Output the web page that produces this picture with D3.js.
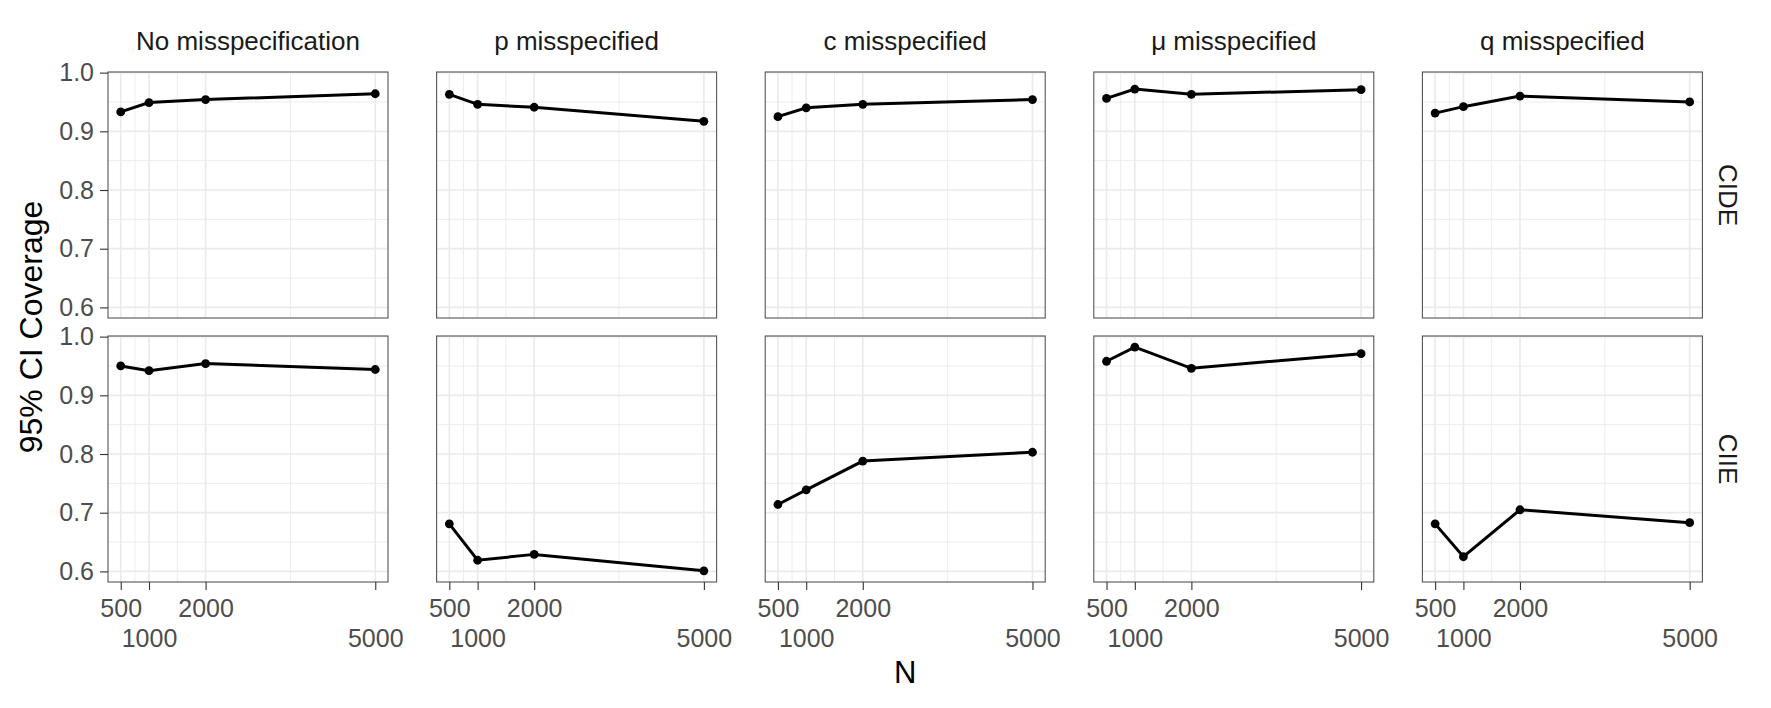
<!DOCTYPE html>
<html>
<head>
<meta charset="utf-8">
<script src="https://cdn.jsdelivr.net/npm/d3@7"></script>
<style>
  body { margin: 0; background: #fff; }
  text { font-family: "Liberation Sans", Arial, Helvetica, sans-serif; }
</style>
</head>
<body>
<div class="chart"></div>
<script>
// sample sizes and facets
const sampleSizes = [500, 1000, 2000, 5000];
const scenarios = ["No misspecification", "p misspecified", "c misspecified", "μ misspecified", "q misspecified"];
const estimands = ["CIDE", "CIIE"];

// coverage per scenario, one array per estimand row
const cideCoverage = [
  [0.933, 0.949, 0.954, 0.964],
  [0.963, 0.946, 0.941, 0.917],
  [0.925, 0.940, 0.946, 0.954],
  [0.956, 0.972, 0.963, 0.971],
  [0.931, 0.942, 0.960, 0.950]
];
const ciieCoverage = [
  [0.950, 0.942, 0.954, 0.944],
  [0.681, 0.619, 0.629, 0.601],
  [0.714, 0.739, 0.788, 0.803],
  [0.958, 0.982, 0.946, 0.971],
  [0.681, 0.625, 0.705, 0.683]
];
const yTicks = [0.6, 0.7, 0.8, 0.9, 1.0];
const yMinor = [0.65, 0.75, 0.85, 0.95];
const xMinor = [750, 1500, 3500];

const width = 1771, height = 708;
const marginLeft = 108, marginTop = 72;
const pw = 280, ph = 246;
const gapX = 48.6, gapY = 18;

const svg = d3.select(".chart").append("svg")
  .attr("width", width).attr("height", height);

// ggplot style 5% expansion
const x = d3.scaleLinear().domain([275, 5225]).range([0, pw]);
const allVals = cideCoverage.flat().concat(ciieCoverage.flat());
const lo = d3.min(allVals), hi = d3.max(allVals), pad = (hi - lo) * 0.05;
const y = d3.scaleLinear().domain([lo - pad, hi + pad]).range([ph, 0]);

const rows = [cideCoverage, ciieCoverage];

const line = d3.line().x(d => x(d[0])).y(d => y(d[1]));

rows.forEach((rowData, r) => {
  scenarios.forEach((name, c) => {
    const g = svg.append("g")
      .attr("transform", `translate(${marginLeft + c * (pw + gapX)},${marginTop + r * (ph + gapY)})`);

    // minor grid
    g.selectAll(".vmin").data(xMinor).enter().append("line")
      .attr("x1", d => x(d)).attr("x2", d => x(d)).attr("y1", 0).attr("y2", ph)
      .attr("stroke", "#ebebeb").attr("stroke-width", 0.9);
    g.selectAll(".hmin").data(yMinor).enter().append("line")
      .attr("y1", d => y(d)).attr("y2", d => y(d)).attr("x1", 0).attr("x2", pw)
      .attr("stroke", "#ebebeb").attr("stroke-width", 0.9);
    // major grid
    g.selectAll(".vmaj").data(sampleSizes).enter().append("line")
      .attr("x1", d => x(d)).attr("x2", d => x(d)).attr("y1", 0).attr("y2", ph)
      .attr("stroke", "#ebebeb").attr("stroke-width", 1.7);
    g.selectAll(".hmaj").data(yTicks).enter().append("line")
      .attr("y1", d => y(d)).attr("y2", d => y(d)).attr("x1", 0).attr("x2", pw)
      .attr("stroke", "#ebebeb").attr("stroke-width", 1.7);

    const pts = sampleSizes.map((n, i) => [n, rowData[c][i]]);
    g.append("path").datum(pts)
      .attr("d", line).attr("fill", "none")
      .attr("stroke", "#000").attr("stroke-width", 3);
    g.selectAll("circle").data(pts).enter().append("circle")
      .attr("cx", d => x(d[0])).attr("cy", d => y(d[1])).attr("r", 4.4)
      .attr("fill", "#000");

    g.append("rect").attr("width", pw).attr("height", ph)
      .attr("fill", "none").attr("stroke", "#555").attr("stroke-width", 1.1);

    // facet strip on top
    if (r === 0) {
      g.append("text").attr("x", pw / 2).attr("y", -22)
        .attr("text-anchor", "middle").attr("font-size", 26).attr("fill", "#1a1a1a")
        .text(name);
    }
    // y axis on first column
    if (c === 0) {
      const ay = g.append("g").call(d3.axisLeft(y).tickValues(yTicks).tickFormat(d3.format(".1f")).tickSize(8).tickPadding(6));
      ay.select(".domain").remove();
      ay.selectAll("line").attr("stroke", "#333").attr("stroke-width", 1.1);
      ay.selectAll("text").attr("font-size", 25).attr("fill", "#4d4d4d")
        .style("font-family", "'Liberation Sans', Arial, sans-serif");
    }
    // x axis on bottom row, labels dodged in two lines
    if (r === 1) {
      const ax = g.append("g").attr("transform", `translate(0,${ph})`)
        .call(d3.axisBottom(x).tickValues(sampleSizes).tickFormat(d3.format("d")).tickSize(8).tickPadding(6));
      ax.select(".domain").remove();
      ax.selectAll("line").attr("stroke", "#333").attr("stroke-width", 1.1);
      ax.selectAll("text").attr("font-size", 25).attr("fill", "#4d4d4d")
        .style("font-family", "'Liberation Sans', Arial, sans-serif")
        .attr("y", (d, i) => i % 2 === 0 ? 17 : 47);
    }
    // row strip on right
    if (c === scenarios.length - 1) {
      g.append("text")
        .attr("transform", `translate(${pw + 17},${ph / 2}) rotate(90)`)
        .attr("text-anchor", "middle").attr("font-size", 26).attr("fill", "#1a1a1a")
        .text(estimands[r]);
    }
  });
});

const plotRight = marginLeft + scenarios.length * pw + (scenarios.length - 1) * gapX;
svg.append("text")
  .attr("x", (marginLeft + plotRight) / 2).attr("y", 683)
  .attr("text-anchor", "middle").attr("font-size", 31).attr("fill", "#000")
  .text("N");
svg.append("text")
  .attr("transform", `translate(42,${marginTop + ph + gapY / 2}) rotate(-90)`)
  .attr("text-anchor", "middle").attr("font-size", 32).attr("fill", "#000")
  .text("95% CI Coverage");
</script>
</body>
</html>
